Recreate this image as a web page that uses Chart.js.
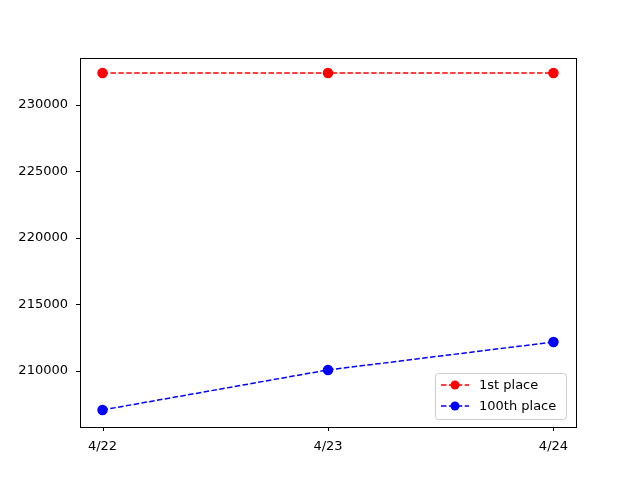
<!DOCTYPE html>
<html><head><script src="https://cdn.jsdelivr.net/npm/chart.js"></script>
<style>body{margin:0;background:#fff}#c{width:640px;height:480px}</style></head>
<body><div id="c"><canvas id="cv" width="640" height="480"></canvas></div>
<script>
const categories = ["4/22","4/23","4/24"];
const first = [232400, 232400, 232400];
const hundredth = [207070, 210080, 212180];
const yTicks = [210000, 215000, 220000, 225000, 230000];
const seriesNames = ["1st place","100th place"];
const colors = ["#ff0000","#0000ff"];

const legendPlugin = {
  id:'lg',
  afterDraw(chart){
    const ctx=chart.ctx, a=chart.chartArea;
    const w=131,h=46, x=a.right-10-w, y=a.bottom-8-h;
    ctx.save();
    ctx.fillStyle='rgba(255,255,255,0.8)';ctx.strokeStyle='#cccccc';ctx.lineWidth=1;
    ctx.beginPath();ctx.roundRect(x+0.5,y+0.5,w,h,3);ctx.fill();ctx.stroke();
    ctx.font='13px "DejaVu Sans"';ctx.textBaseline='middle';
    seriesNames.forEach((n,i)=>{
      const yy=y+12+i*21;
      ctx.strokeStyle=colors[i];ctx.lineWidth=1.5;ctx.setLineDash([5.5,2.4]);
      ctx.beginPath();ctx.moveTo(x+6,yy);ctx.lineTo(x+34,yy);ctx.stroke();ctx.setLineDash([]);
      ctx.fillStyle=colors[i];ctx.beginPath();ctx.arc(x+20,yy,4.5,0,Math.PI*2);ctx.fill();
      ctx.fillStyle='#000';ctx.fillText(n,x+44,yy+1);
    });
    ctx.restore();
  }
};
const frame={id:'fr',afterDraw(chart){const c=chart.ctx,a=chart.chartArea;c.save();c.strokeStyle='#000';c.lineWidth=1;c.strokeRect(Math.round(a.left)+0.5,Math.round(a.top)+0.5,Math.round(a.right-a.left),Math.round(a.bottom-a.top));c.restore();}};

const mk=(d)=>d.map((v,i)=>({x:i,y:v}));
new Chart(document.getElementById('cv'),{
  type:'line',
  data:{datasets:[
    {label:seriesNames[0],data:mk(first),borderColor:colors[0],backgroundColor:colors[0],borderDash:[5.5,2.4],borderWidth:1.5,pointRadius:4.5,pointHoverRadius:4.5},
    {label:seriesNames[1],data:mk(hundredth),borderColor:colors[1],backgroundColor:colors[1],borderDash:[5.5,2.4],borderWidth:1.5,pointRadius:4.5,pointHoverRadius:4.5}
  ]},
  options:{responsive:false,animation:false,
    layout:{padding:{left:0,top:58,right:64,bottom:0}},
    plugins:{legend:{display:false},tooltip:{enabled:false}},
    scales:{
      x:{type:'linear',min:-0.1,max:2.1,grid:{display:false},border:{display:false},
        afterBuildTicks(s){s.ticks=categories.map((c,i)=>({value:i}));},
        afterFit(s){s.height=53;},
        ticks:{color:'#000',font:{family:'DejaVu Sans',size:13},maxRotation:0,callback:(v)=>categories[v],padding:4},
      },
      y:{min:205790,max:233530,grid:{display:false},border:{display:false},
        afterBuildTicks(s){s.ticks=yTicks.map(v=>({value:v}));},
        afterFit(s){s.width=80;},
        ticks:{color:'#000',font:{family:'DejaVu Sans',size:13},callback:(v)=>String(v),padding:4}
      }
    }
  },
  plugins:[frame,legendPlugin,{id:'tk',afterDraw(chart){const c=chart.ctx,a=chart.chartArea;c.save();c.strokeStyle='#000';c.lineWidth=1;
    yTicks.forEach(v=>{const y=Math.round(chart.scales.y.getPixelForValue(v))+0.5;c.beginPath();c.moveTo(a.left-4,y);c.lineTo(a.left,y);c.stroke();});
    categories.forEach((_,i)=>{const x=Math.round(chart.scales.x.getPixelForValue(i))+0.5;c.beginPath();c.moveTo(x,a.bottom);c.lineTo(x,a.bottom+4);c.stroke();});c.restore();}}]
});
</script></body></html>
